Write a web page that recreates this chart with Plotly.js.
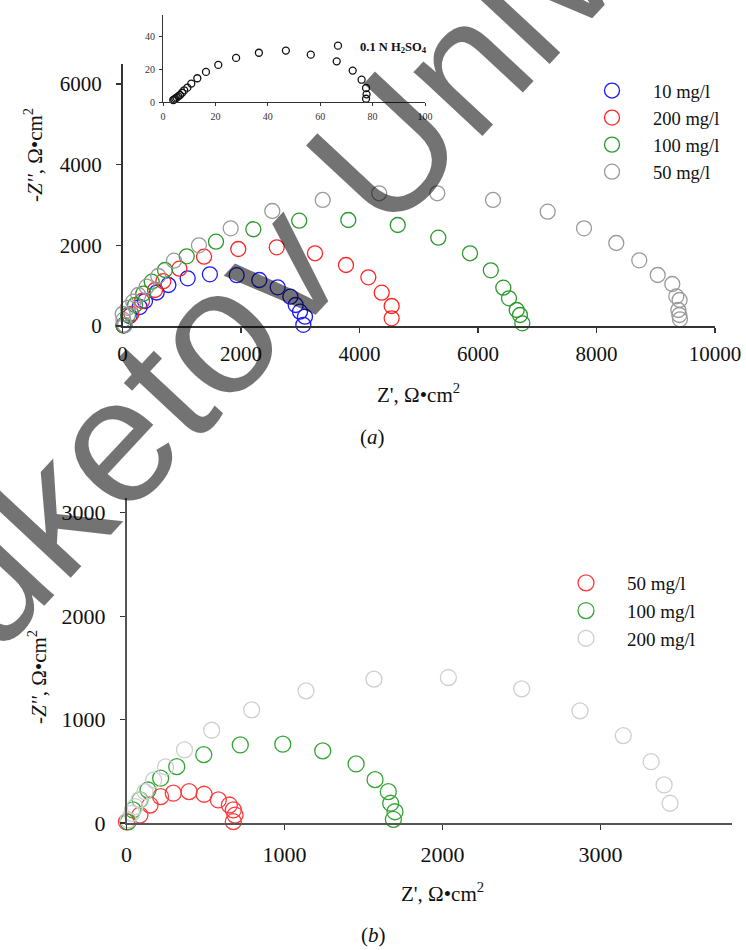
<!DOCTYPE html>
<html>
<head>
<meta charset="utf-8">
<script src="https://cdn.plot.ly/plotly-3.0.1.min.js"></script>
<style>html,body{margin:0;padding:0;background:#fff;}#chart{width:746px;height:950px;}</style>
</head>
<body>
<div id="chart"></div>
<script>
// ---------- Panel (a): Nyquist data (Z', -Z'') ----------
const a_names = ['10 mg/l', '200 mg/l', '100 mg/l', '50 mg/l'];
const a10_x  = [15, 120, 290, 380, 577, 774, 1100, 1475, 1927, 2309, 2619, 2833, 2923, 2996, 3080, 3052];
const a10_y  = [20, 250, 470, 620, 830, 1016, 1181, 1280, 1260, 1140, 959, 727, 520, 355, 231, 30];
const a200_x = [20, 150, 330, 549, 689, 960, 1376, 1954, 2603, 3249, 3772, 4149, 4375, 4543, 4543];
const a200_y = [10, 300, 620, 892, 1110, 1420, 1717, 1908, 1950, 1802, 1512, 1207, 825, 496, 191];
const a100_x = [20, 93, 211, 350, 493, 717, 1084, 1578, 2208, 2982, 3811, 4645, 5330, 5865, 6216, 6427, 6523, 6653, 6709, 6748];
const a100_y = [10, 273, 520, 800, 1098, 1388, 1727, 2089, 2397, 2610, 2627, 2503, 2188, 1802, 1380, 949, 686, 397, 273, 67];
const a50_x  = [40, 15, 3, 90, 182, 267, 408, 604, 869, 1290, 1826, 2528, 3379, 4332, 5313, 6253, 7176, 7789, 8334, 8722, 9033, 9279, 9347, 9402, 9381, 9398, 9409];
const a50_y  = [25, 150, 297, 450, 602, 768, 974, 1239, 1618, 2000, 2421, 2850, 3123, 3289, 3289, 3123, 2833, 2421, 2057, 1628, 1264, 1041, 736, 644, 397, 273, 166];

// ---------- Inset: blank 0.1 N H2SO4 ----------
const inset_name = '<b>0.1 N H<sub>2</sub>SO<sub>4</sub></b>';
const inset_x = [3.9, 4.3, 4.7, 5.2, 5.8, 6.5, 7.3, 8.1, 9.3, 10.8, 13.1, 16.4, 21.1, 27.9, 36.6, 46.9, 56.4, 66.3, 72.4, 75.8, 77.5, 77.7, 77.5];
const inset_y = [1.2, 1.6, 2.1, 2.7, 3.5, 4.3, 5.7, 7.2, 8.8, 11.3, 14.6, 18.5, 22.8, 27.1, 30.3, 31.6, 29.1, 25.0, 19.3, 13.7, 8.6, 4.7, 2.0];

// ---------- Panel (b) ----------
const b_names = ['50 mg/l', '100 mg/l', '200 mg/l'];
const b50_x  = [0, 85, 149, 216, 296, 396, 491, 581, 651, 676, 687, 676];
const b50_y  = [10, 77, 174, 255, 288, 303, 278, 223, 174, 126, 77, 13];
const b100_x = [10, 41, 85, 136, 216, 318, 489, 720, 989, 1242, 1453, 1573, 1657, 1672, 1699, 1689];
const b100_y = [10, 126, 223, 319, 433, 545, 661, 755, 762, 697, 571, 419, 303, 191, 109, 36];
const b200_x = [11, 33, 54, 81, 117, 172, 247, 367, 539, 792, 1136, 1566, 2037, 2501, 2870, 3144, 3320, 3402, 3440];
const b200_y = [29, 94, 158, 223, 303, 416, 542, 707, 897, 1094, 1278, 1391, 1407, 1297, 1084, 845, 593, 368, 191];

// tick values / labels
const a_xticks = [0, 2000, 4000, 6000, 8000, 10000];
const a_xlabels = ['0', '2000', '4000', '6000', '8000', '10000'];
const a_yticks = [0, 2000, 4000, 6000];
const b_xticks = [0, 1000, 2000, 3000];
const b_yticks = [0, 1000, 2000, 3000];
const in_xticks = [0, 20, 40, 60, 80, 100];
const in_yticks = [0, 20, 40];

const W = 746, H = 950;
const px = v => v / W;
const py = v => 1 - v / H;
const SERIF = 'Liberation Serif, Times New Roman, serif';

function open(x, y, name, color, size, xa, ya, lg) {
  return {
    type: 'scatter', mode: 'markers', x: x, y: y, name: name,
    xaxis: xa, yaxis: ya, legend: lg, cliponaxis: false, hoverinfo: 'skip',
    marker: {symbol: 'circle-open', size: size, color: color, line: {color: color, width: 1.3}}
  };
}

const traces = [
  open(a10_x, a10_y, a_names[0], '#1a1aff', 15, 'x', 'y', 'legend'),
  open(a200_x, a200_y, a_names[1], '#ff2424', 15, 'x', 'y', 'legend'),
  open(a100_x, a100_y, a_names[2], '#2a9a2a', 15, 'x', 'y', 'legend'),
  open(a50_x, a50_y, a_names[3], '#9a9a9a', 15, 'x', 'y', 'legend'),
  open(inset_x, inset_y, inset_name, '#111111', 7, 'x3', 'y3', 'legend3'),
  open(b50_x, b50_y, b_names[0], '#ff3b3b', 16, 'x2', 'y2', 'legend2'),
  open(b100_x, b100_y, b_names[1], '#34a534', 16, 'x2', 'y2', 'legend2'),
  open(b200_x, b200_y, b_names[2], '#cfcfcf', 16, 'x2', 'y2', 'legend2')
];

function ax(extra) {
  return Object.assign({
    showline: true, linecolor: '#333', linewidth: 1.5, showgrid: false, zeroline: false,
    ticks: 'outside', ticklen: 5, tickwidth: 1.3, tickcolor: '#333', tickmode: 'array',
    tickfont: {family: SERIF, size: 21, color: '#111'}, fixedrange: true
  }, extra);
}

function note(text, x, y, size, angle) {
  return {text: text, xref: 'paper', yref: 'paper', x: px(x), y: py(y), xanchor: 'center', yanchor: 'middle',
          textangle: angle || 0, showarrow: false, font: {family: SERIF, size: size, color: '#111'}};
}

const layout = {
  width: W, height: H, margin: {l: 0, r: 0, t: 0, b: 0},
  paper_bgcolor: '#ffffff', plot_bgcolor: 'rgba(0,0,0,0)',
  font: {family: SERIF, color: '#111', size: 20},
  showlegend: true,
  xaxis: ax({domain: [px(122.5), px(715)], range: [0, 10000], anchor: 'y', tickvals: a_xticks, ticktext: a_xlabels, ticklabelstandoff: 3}),
  yaxis: ax({domain: [py(326), py(63.7)], range: [0, 6500], anchor: 'x', tickvals: a_yticks, ticktext: a_yticks.map(String), ticklabelstandoff: 10}),
  xaxis2: ax({domain: [px(126.5), px(731.7)], range: [0, 3830], anchor: 'y2', tickvals: b_xticks, ticktext: b_xticks.map(String), ticklabelstandoff: 6, tickfont: {family: SERIF, size: 22, color: '#111'}, linecolor: '#555'}),
  yaxis2: ax({domain: [py(823), py(498.3)], range: [0, 3140], anchor: 'x2', tickvals: b_yticks, ticktext: b_yticks.map(String), ticklabelstandoff: 10, tickfont: {family: SERIF, size: 22, color: '#111'}, linecolor: '#555'}),
  xaxis3: ax({domain: [px(163), px(425)], range: [0, 100], anchor: 'y3', tickvals: in_xticks, ticktext: in_xticks.map(String), ticklen: 3, linewidth: 1, tickwidth: 1, ticklabelstandoff: 2, tickfont: {family: SERIF, size: 10, color: '#333'}}),
  yaxis3: ax({domain: [py(102), py(15)], range: [0, 53.5], anchor: 'x3', tickvals: in_yticks, ticktext: in_yticks.map(String), ticklen: 3, linewidth: 1, tickwidth: 1, ticklabelstandoff: 2, tickfont: {family: SERIF, size: 10, color: '#333'}}),
  legend: {x: px(571), y: py(72), xanchor: 'left', yanchor: 'top', bgcolor: 'rgba(0,0,0,0)', itemwidth: 72, font: {family: SERIF, size: 18.5, color: '#111'}},
  legend2: {x: px(545), y: py(564), xanchor: 'left', yanchor: 'top', bgcolor: 'rgba(0,0,0,0)', itemwidth: 72, font: {family: SERIF, size: 19, color: '#111'}},
  legend3: {x: px(316), y: py(31), xanchor: 'left', yanchor: 'top', bgcolor: 'rgba(0,0,0,0)', itemwidth: 34, font: {family: SERIF, size: 12.5, color: '#111'}},
  annotations: [
    note('-<i>Z\'\'</i>, Ω•cm<sup>2</sup>', 33, 155, 21, -90),
    note('Z\', Ω•cm<sup>2</sup>', 418, 393, 21),
    note('(<i>a</i>)', 372, 437, 21),
    note('-<i>Z\'\'</i>, Ω•cm<sup>2</sup>', 37, 677, 21, -90),
    note('Z\', Ω•cm<sup>2</sup>', 443, 892, 21),
    note('(<i>b</i>)', 373, 935, 21),
    {text: 'Buketov University', xref: 'paper', yref: 'paper', x: px(372), y: py(165), xanchor: 'center', yanchor: 'middle', textangle: -47, showarrow: false, font: {family: 'Liberation Sans, Arial, sans-serif', size: 178, color: 'rgba(0,0,0,0.55)'}}
  ]
};

Plotly.newPlot('chart', traces, layout, {staticPlot: true, displayModeBar: false});
</script>
</body>
</html>
